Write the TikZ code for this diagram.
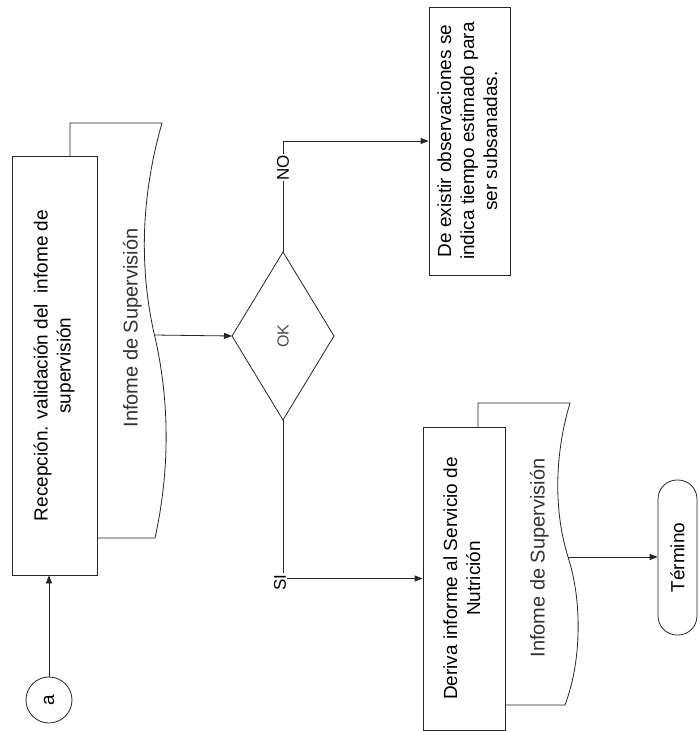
\documentclass[tikz,border=0pt]{standalone}
\usepackage{fontspec}
\setmainfont{Liberation Sans}
\usepackage{graphicx}
\usetikzlibrary{arrows.meta}
\newcommand{\rt}[1]{\rotatebox{90}{\begin{tabular}{@{}c@{}}#1\end{tabular}}}
\begin{document}
\begin{tikzpicture}[x=1pt,y=-1pt,
  line/.style={draw=black!85,line width=0.8pt},
  arr/.style={line,-{Triangle[length=8pt,width=6pt]}},
  procbox/.style={line,fill=white,rectangle,inner sep=0pt,
     font=\fontsize{19}{23}\selectfont},
  doctext/.style={inner sep=0pt,text=black!80,font=\fontsize{20}{23}\selectfont},
  lbl/.style={fill=white,inner sep=1pt,font=\fontsize{17}{20}\selectfont}]
\useasboundingbox[fill=white] (0,0) rectangle (699,731);

% connector circle
\node[line,circle,minimum size=46pt,inner sep=0pt,font=\fontsize{19}{23}\selectfont] (a) at (49,700) {\rotatebox{90}{a}};

% document 1 (behind box 1)
\draw[line,fill=white] (97,538) -- (155,538)
  .. controls (170,470) and (170,400) .. (154,333)
  .. controls (140,270) and (140,200) .. (162,123)
  -- (70,123) -- (70,156);
\coordinate (d1out) at (154,335);
\node[doctext] (d1t) at (133,328) {\rt{Infome de Supervisión}};

% box 1
\node[procbox,minimum width=85pt,minimum height=419pt] (b1) at (54.5,365.5)
  {\rt{Recepción. validación del\ \ infome de\\supervisión}};

% diamond
\coordinate (dl) at (232,336);
\coordinate (dt) at (283,252);
\coordinate (dr) at (334,336);
\coordinate (db) at (283,420);
\draw[line] (dl) -- (dt) -- (dr) -- (db) -- cycle;
\node[inner sep=0pt,text=black!70,font=\fontsize{16}{19}\selectfont] (ok) at (283,336) {\rotatebox{90}{OK}};

% box 3
\node[procbox,minimum width=81pt,minimum height=268pt] (b3) at (469.5,141)
  {\rt{De existir observaciones se\\indica tiempo estimado para\\ser subsanadas.}};

% document 2 (behind box 4)
\draw[line,fill=white] (505,705) -- (565,705)
  .. controls (582,660) and (582,600) .. (568,557)
  .. controls (555,515) and (553,460) .. (570,403)
  -- (478,403) -- (478,427);
\coordinate (d2out) at (568,557);
\node[doctext] (d2t) at (540,558) {\rt{Infome de Supervisión}};

% box 4
\node[procbox,minimum width=82pt,minimum height=303pt] (b4) at (464,578.5)
  {\rt{Deriva informe al Servicio de\\Nutrición}};

% terminal
\node[line,rectangle,rounded corners=19pt,minimum width=39pt,minimum height=155pt,inner sep=0pt,
  font=\fontsize{19}{23}\selectfont] (term) at (677.5,557.5) {\rotatebox{90}{Término}};

% connectors
\draw[arr] (a.north) -- (a.north |- b1.south);
\draw[arr] (d1out) -- (dl);
\draw[arr] (dt) |- node[lbl,pos=0.38] {\rotatebox{90}{NO}} (b3.west);
\draw[arr] (db) |- node[lbl,pos=0.5,xshift=-3pt,yshift=-4pt] {\rotatebox{90}{SI}} (b4.west);
\draw[arr] (d2out) -- (d2out -| term.west);
\end{tikzpicture}
\end{document}
